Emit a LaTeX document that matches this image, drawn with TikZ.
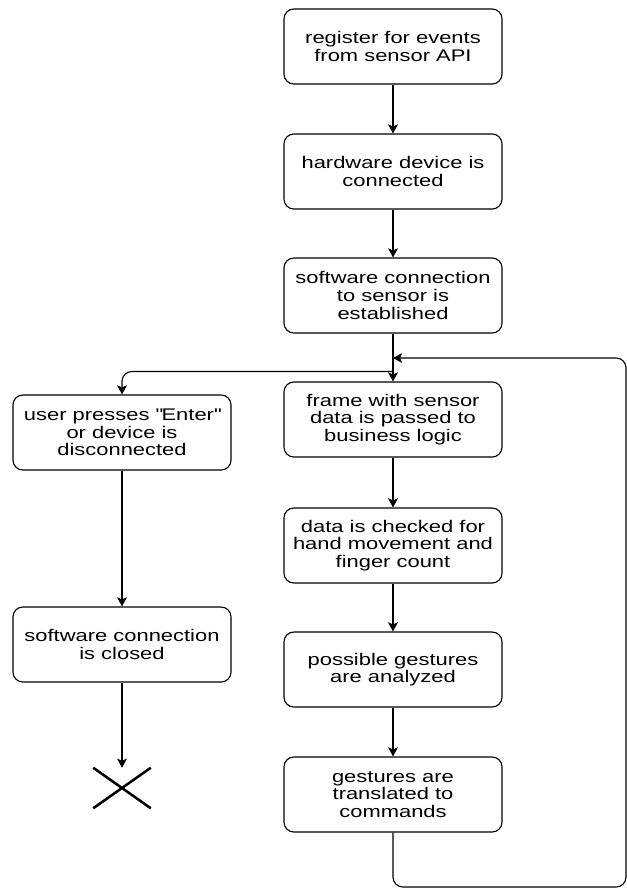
\documentclass[tikz,border=0pt]{standalone}
\usepackage{fontspec}
\setmainfont{Liberation Sans}[FakeStretch=1.3]
\usetikzlibrary{arrows.meta,positioning,shapes.misc}

\begin{document}
\begin{tikzpicture}[
  task/.style={rectangle,rounded corners=7pt,draw,line width=0.8pt,
               minimum width=5.45cm,minimum height=1.875cm,
               align=center,inner sep=2pt,
               font=\fontsize{12}{12.6}\selectfont},
  arr/.style={-{Stealth[length=6.5pt,width=7pt,inset=1.5pt]},line width=0.8pt},
  flow/.style={arr,rounded corners=7pt},
  endx/.style={cross out,draw,line width=1.8pt,
               minimum width=1.375cm,minimum height=0.95cm}
]
  \useasboundingbox (0,0) rectangle (15.675,-22.25);

  % ---- Main column --------------------------------------------
  \node[task] (reg) at (9.825,-1.1625) {register for events\\from sensor API};
  \node[task] (hw)  at (9.825,-4.2875) {hardware device is\\connected};
  \node[task] (sw)  at (9.825,-7.3875) {software connection\\to sensor is\\established};
  \node[task] (frm) at (9.825,-10.4875) {frame with sensor\\data is passed to\\business logic};
  \node[task] (chk) at (9.825,-13.6375) {data is checked for\\hand movement and\\finger count};
  \node[task] (ana) at (9.825,-16.7375) {possible gestures\\are analyzed};
  \node[task] (cmd) at (9.825,-19.8625) {gestures are\\translated to\\commands};

  % ---- Exit column --------------------------------------------
  \node[task] (usr) at (3.05,-10.8125)
    {user presses \textquotedbl Enter\textquotedbl\\or device is\\disconnected};
  \node[task] (cls) at (3.05,-16.1125) {software connection\\is closed};
  \node[endx] (fin) at (3.05,-19.7) {};

  % points on the main line and the loop corner
  \coordinate (merge) at (9.825,-8.95);
  \coordinate (split) at (9.825,-9.2875);
  \coordinate (loop)  at (15.65,-22.175);

  % Arrows down the main column
  \draw[arr] (reg) -- (hw);
  \draw[arr] (hw) -- (sw);
  \draw[arr] (sw) -- (frm);
  \draw[arr] (frm) -- (chk);
  \draw[arr] (chk) -- (ana);
  \draw[arr] (ana) -- (cmd);

  % Branch to the exit column
  \draw[flow] (split) -| (usr.north);
  \draw[arr] (usr) -- (cls);
  \draw[arr] (cls) -- (fin.north);

  % Loop back for the next frame
  \draw[flow] (cmd.south) |- (loop) |- (merge);

\end{tikzpicture}
\end{document}
